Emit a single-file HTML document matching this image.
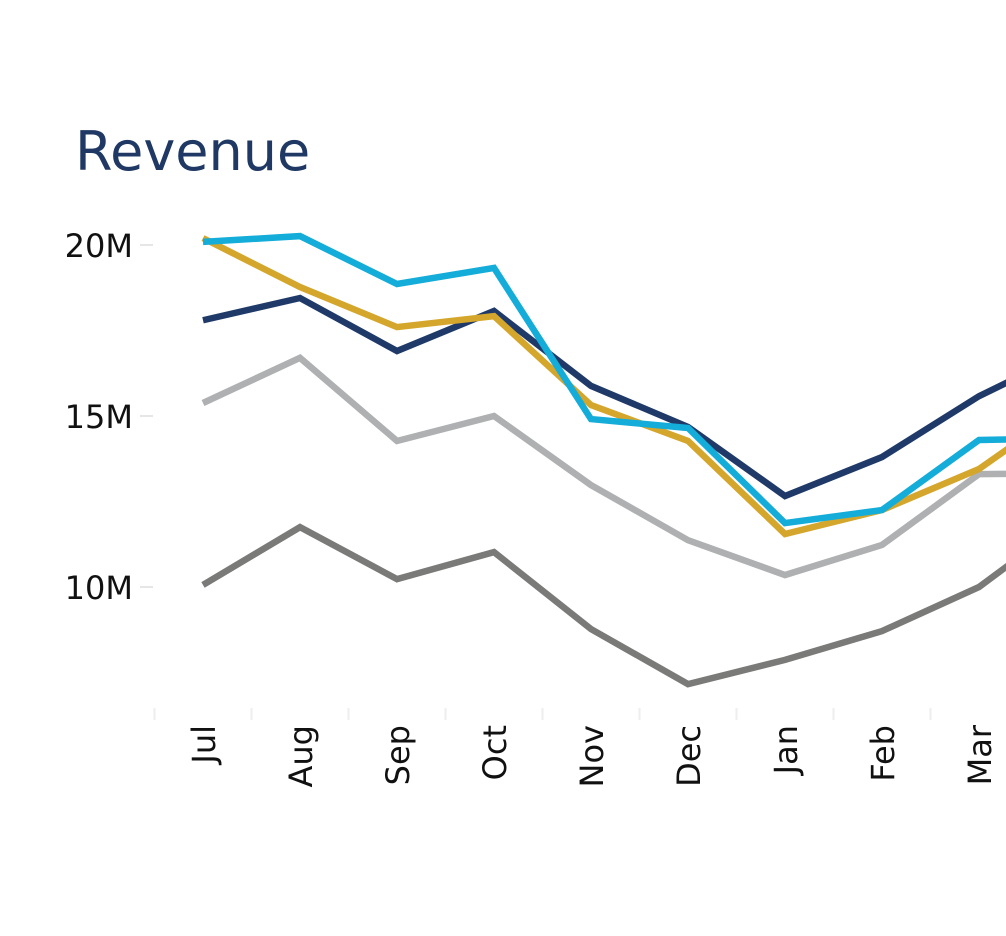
<!DOCTYPE html>
<html><head><meta charset="utf-8"><style>
html,body{margin:0;padding:0;background:#fff;}
svg{display:block;font-family:"DejaVu Sans","Liberation Sans",sans-serif;}
</style></head><body>
<svg width="1006" height="936">
<text x="75" y="170" font-size="54" fill="#1f3864">Revenue</text>
<g id="axes"></g>
<g id="lines"></g>
</svg>
<script>
const months = ["Jul","Aug","Sep","Oct","Nov","Dec","Jan","Feb","Mar","Apr"];
const yTicks = [10, 15, 20];
const yTickLabels = ["10M","15M","20M"];
const seriesNames = ["light-gray","dark-gray","navy","gold","cyan"];
const seriesColors = ["#aeb0b1","#7a7a78","#1f3a68","#d4a72c","#14acd8"];
const lightGray = [15.38,16.7,14.27,15.0,12.98,11.37,10.35,11.23,13.3,13.33];
const darkGray = [10.06,11.75,10.23,11.02,8.77,7.16,7.87,8.71,10.0,12.1];
const navy = [17.8,18.45,16.9,18.07,15.88,14.68,12.66,13.8,15.58,16.96];
const gold = [20.2,18.77,17.6,17.92,15.32,14.27,11.55,12.25,13.45,15.44];
const cyan = [20.09,20.26,18.86,19.33,14.91,14.65,11.87,12.25,14.3,14.35];
const seriesValues = [lightGray, darkGray, navy, gold, cyan];

const NS = "http://www.w3.org/2000/svg";
const xScale = i => 203 + i * 97.0;
const yScale = v => 587 - (v - 10) * 34.2;
const axes = document.getElementById("axes");
const lines = document.getElementById("lines");
function mk(tag, attrs, parent){const e=document.createElementNS(NS,tag);for(const k in attrs)e.setAttribute(k,attrs[k]);parent.appendChild(e);return e;}

yTicks.forEach((t,i)=>{
  const y=yScale(t);
  const tk=mk("line",{x1:140,x2:153,y1:y,y2:y,stroke:"#e6e6e6","stroke-width":2},axes);
  
  
  const tx=mk("text",{x:133,y:y+12,"text-anchor":"end","font-size":32,fill:"#111"},axes);
  tx.textContent=yTickLabels[i];
  
  
});
months.forEach((m,i)=>{
  const x=xScale(i);
  const tk=mk("line",{x1:x-48.5,x2:x-48.5,y1:708,y2:720,stroke:"#eeeeee","stroke-width":2},axes);
  
  
  const tx=mk("text",{x:0,y:0,"text-anchor":"end","font-size":32,fill:"#111",transform:`translate(${x+12},725) rotate(-90)`},axes);
  tx.textContent=m;
  
  
});
seriesValues.forEach((vals,s)=>{
  const d=vals.map((v,i)=>(i?"L":"M")+xScale(i)+","+yScale(v)).join(" ");
  const p=mk("path",{d:d,fill:"none",stroke:seriesColors[s],"stroke-width":6.5,"stroke-linejoin":"miter","stroke-linecap":"butt"},lines);
  
  
});
</script>
</body></html>
